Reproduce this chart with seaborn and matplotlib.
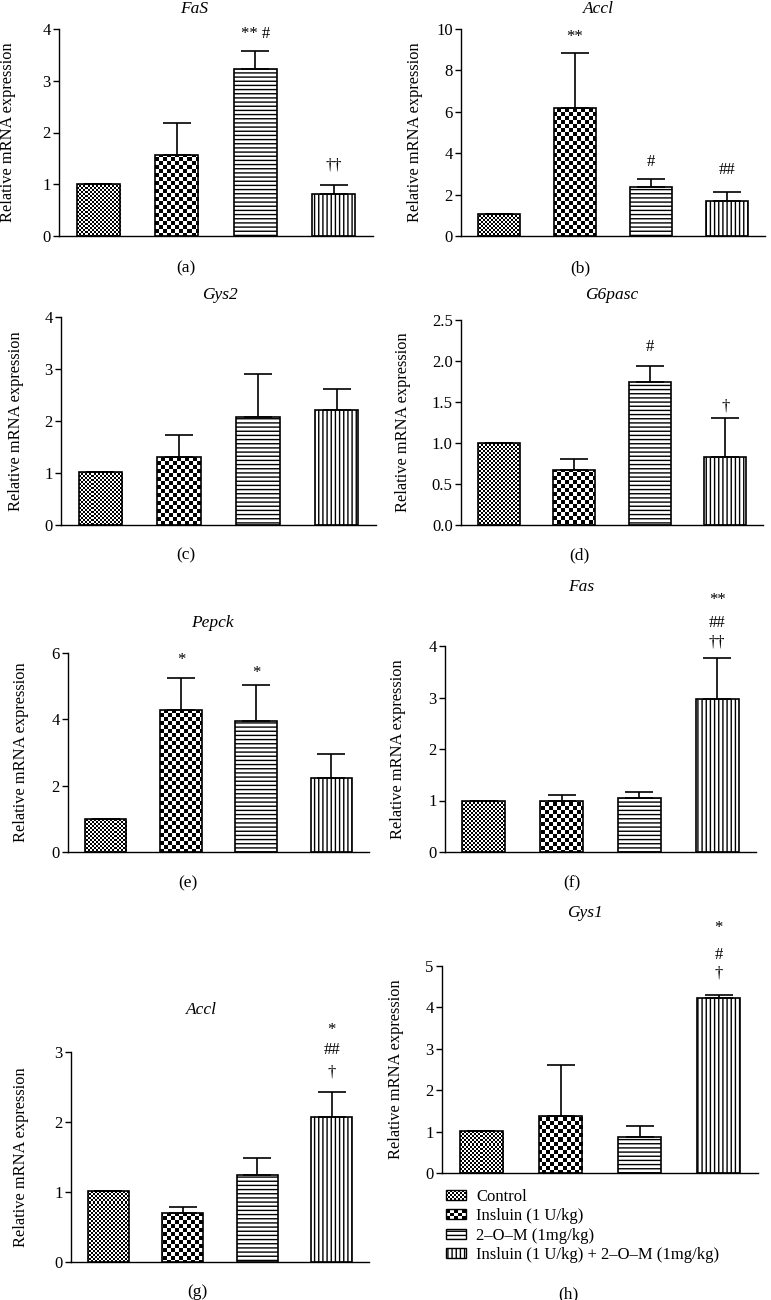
import numpy as np
import pandas as pd
import seaborn as sns
import matplotlib
matplotlib.use("Agg")
import matplotlib.pyplot as plt
from matplotlib.image import AxesImage
from matplotlib.patches import Patch, Rectangle
from matplotlib.legend_handler import HandlerBase

# groups (legend text kept as in the figure)
groups = ["Control", "Insluin (1 U/kg)", "2\u2013O\u2013M (1mg/kg)",
          "Insluin (1 U/kg) + 2\u2013O\u2013M (1mg/kg)"]

# mean and upper SD per gene
fas_mean = [1.00, 1.56, 3.22, 0.82]
fas_sd = [0.00, 0.63, 0.36, 0.16]
accl_mean = [1.05, 6.20, 2.35, 1.68]
accl_sd = [0.00, 2.63, 0.42, 0.45]
gys2_mean = [1.01, 1.30, 2.07, 2.22]
gys2_sd = [0.00, 0.44, 0.83, 0.39]
g6pasc_mean = [1.00, 0.67, 1.74, 0.83]
g6pasc_sd = [0.00, 0.14, 0.20, 0.47]
pepck_mean = [1.01, 4.27, 3.95, 2.23]
pepck_sd = [0.00, 0.98, 1.10, 0.73]
fas2_mean = [1.00, 1.00, 1.04, 2.98]
fas2_sd = [0.00, 0.10, 0.13, 0.78]
accl2_mean = [1.02, 0.70, 1.24, 2.07]
accl2_sd = [0.00, 0.09, 0.24, 0.36]
gys1_mean = [1.02, 1.38, 0.88, 4.22]
gys1_sd = [0.00, 1.24, 0.26, 0.07]

# significance marks: (bar index, text, y value)
fas_marks = [(2, "** #", 3.90), (3, "\u2020\u2020", 1.37)]
accl_marks = [(1, "**", 9.60), (2, "#", 3.56), (3, "##", 3.20)]
gys2_marks = []
g6pasc_marks = [(2, "#", 2.17), (3, "\u2020", 1.44)]
pepck_marks = [(1, "*", 5.78), (2, "*", 5.39)]
fas2_marks = [(3, "**", 4.89), (3, "##", 4.45), (3, "\u2020\u2020", 4.06)]
accl2_marks = [(3, "*", 3.31), (3, "##", 3.03), (3, "\u2020", 2.70)]
gys1_marks = [(3, "*", 5.92), (3, "#", 5.27), (3, "\u2020", 4.83)]

panels = [
    ("FaS", "(a)", fas_mean, fas_sd, fas_marks, 4, 1),
    ("Accl", "(b)", accl_mean, accl_sd, accl_marks, 10, 2),
    ("Gys2", "(c)", gys2_mean, gys2_sd, gys2_marks, 4, 1),
    ("G6pasc", "(d)", g6pasc_mean, g6pasc_sd, g6pasc_marks, 2.5, 0.5),
    ("Pepck", "(e)", pepck_mean, pepck_sd, pepck_marks, 6, 2),
    ("Fas", "(f)", fas2_mean, fas2_sd, fas2_marks, 4, 1),
    ("Accl", "(g)", accl2_mean, accl2_sd, accl2_marks, 3, 1),
    ("Gys1", "(h)", gys1_mean, gys1_sd, gys1_marks, 5, 1),
]

# layout in pixels: axes (x0, x1, y0, y1), ylabel right edge, title (x, y), letter (x, y)
FIG_W, FIG_H = 771, 1300
layout = [
    ((59, 373, 29, 236), 16, (194, 9), (186, 268)),
    ((461, 765, 29, 236), 423, (598, 9), (580, 268)),
    ((61, 376, 317, 525), 24, (220, 295), (186, 555)),
    ((461, 763, 320, 525), 411, (612, 295), (579, 555)),
    ((68, 369, 653, 852), 29, (212, 623), (188, 883)),
    ((445, 756, 646, 852), 406, (581, 587), (572, 883)),
    ((71, 369, 1052, 1262), 29, (201, 1010), (197, 1292)),
    ((442, 758, 966, 1173), 404, (585, 913), (568, 1294)),
]

sns.set_style("ticks", {"axes.edgecolor": "black", "text.color": "black",
                        "xtick.color": "black", "ytick.color": "black",
                        "axes.labelcolor": "black"})
plt.rcParams["font.family"] = ["Liberation Serif", "DejaVu Serif"]
plt.rcParams["hatch.linewidth"] = 1.0


def fig_xy(x, y):
    return x / FIG_W, 1 - y / FIG_H


def checker_fill(ax, bar, cell):
    pos = ax.get_position()
    w = int(round(pos.width * FIG_W))
    h = int(round(pos.height * FIG_H))
    yy, xx = np.indices((h, w))
    tile = ((yy // cell + xx // cell) % 2).astype(float)
    im = AxesImage(ax, cmap="gray", interpolation="nearest",
                   extent=(0, 1, 0, 1), origin="upper")
    im.set_data(tile)
    im.set_clim(0, 1)
    im.set_transform(ax.transAxes)
    im.set_zorder(0.8)
    ax.add_image(im)
    im.set_clip_path(bar)


class CheckerHandler(HandlerBase):
    def __init__(self, n_cols):
        super().__init__()
        self.n_cols = n_cols

    def create_artists(self, legend, orig_handle, xdescent, ydescent,
                       width, height, fontsize, trans):
        x0, y0 = -xdescent, -ydescent
        n_rows = max(1, int(round(self.n_cols * height / width)))
        cw, ch = width / self.n_cols, height / n_rows
        arts = [Rectangle((x0, y0), width, height, fc="white", ec="none",
                          transform=trans)]
        for r in range(n_rows):
            for c in range(self.n_cols):
                if (r + c) % 2 == 0:
                    arts.append(Rectangle((x0 + c * cw, y0 + r * ch), cw, ch,
                                          fc="black", ec="none", transform=trans))
        arts.append(Rectangle((x0, y0), width, height, fill=False, ec="black",
                              lw=1.0, transform=trans))
        return arts


fig = plt.figure(figsize=(FIG_W / 100, FIG_H / 100), dpi=100)

for (title, letter, means, sds, marks, ymax, ystep), (box, ylab_x, tpos, lpos) in zip(panels, layout):
    x0, x1, y0, y1 = box
    ax = fig.add_axes([x0 / FIG_W, 1 - y1 / FIG_H, (x1 - x0) / FIG_W, (y1 - y0) / FIG_H])
    df = pd.DataFrame({"group": groups, "value": means})
    sns.barplot(data=df, x="group", y="value", color="white", edgecolor="black",
                linewidth=1.2, width=0.55, errorbar=None, ax=ax)
    bars = list(ax.patches)
    bars[0].set_facecolor("none")
    checker_fill(ax, bars[0], 2)
    bars[1].set_facecolor("none")
    checker_fill(ax, bars[1], 4)
    bars[2].set_hatch("----")
    bars[3].set_hatch("||||")

    ax.errorbar(np.arange(len(means)), means, yerr=[np.zeros(len(sds)), sds],
                fmt="none", ecolor="black", elinewidth=1.2, capsize=10,
                capthick=1.2, zorder=3)

    for idx, txt, yv in marks:
        ax.text(idx, yv, txt, ha="center", va="center", fontsize=12)

    ax.set_xlim(-0.5, 3.5)
    ax.set_ylim(0, ymax)
    ticks = np.arange(0, ymax + ystep / 2, ystep)
    ax.set_yticks(ticks)
    if ystep < 1:
        ax.set_yticklabels([f"{t:.1f}" for t in ticks])
    ax.set_xticks([])
    ax.set_xlabel("")
    ax.set_ylabel("Relative mRNA expression", fontsize=11.8)
    ax.yaxis.set_label_coords((ylab_x - x0) / (x1 - x0), 0.5)
    ax.tick_params(axis="y", length=4, width=1, labelsize=12, pad=2)
    for sp in ("left", "bottom"):
        ax.spines[sp].set_linewidth(1.0)
    sns.despine(ax=ax)

    fig.text(*fig_xy(*tpos), title, ha="center", va="center",
             fontsize=12.5, style="italic")
    fig.text(*fig_xy(*lpos), letter, ha="center", va="center", fontsize=12.5)

# legend under panel (h)
h_ctrl = Patch(fc="white", ec="black", label=groups[0])
h_ins = Patch(fc="white", ec="black", label=groups[1])
h_om = Patch(fc="white", ec="black", hatch="----", lw=1.0, label=groups[2])
h_both = Patch(fc="white", ec="black", hatch="||||", lw=1.0, label=groups[3])
fig.legend(handles=[h_ctrl, h_ins, h_om, h_both], labels=groups,
           loc="upper left", bbox_to_anchor=fig_xy(446, 1189),
           frameon=False, borderaxespad=0, borderpad=0,
           handlelength=1.2, handleheight=0.55, handletextpad=0.6,
           labelspacing=0.2, fontsize=12,
           handler_map={h_ctrl: CheckerHandler(10), h_ins: CheckerHandler(5)})

fig.savefig("out.png", dpi=100)
